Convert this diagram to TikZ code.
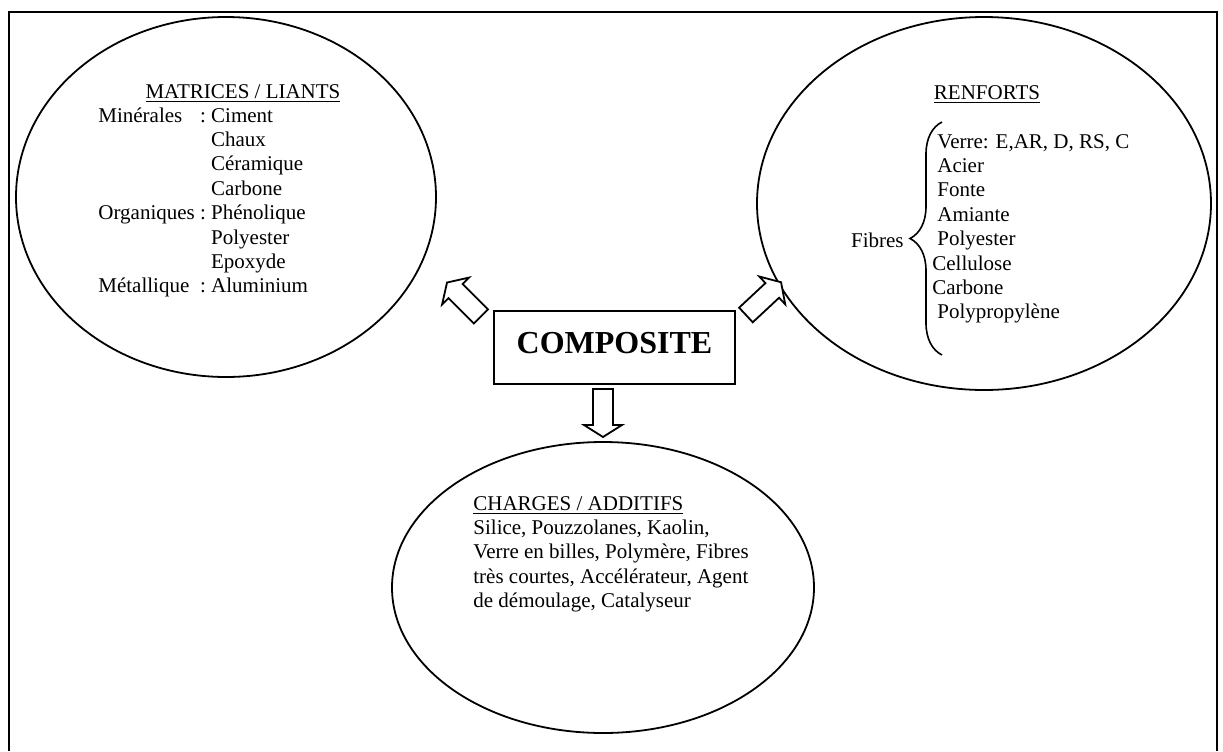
\documentclass[tikz,border=0pt]{standalone}
\usepackage{fontspec}
\setmainfont{Liberation Serif}
\usetikzlibrary{positioning,shapes,decorations.pathreplacing}

\begin{document}
\begin{tikzpicture}[
  x=0.5pt, y=-0.5pt,
  myellipse/.style={draw,ellipse,line width=0.9pt,inner sep=0pt},
  blockarrow/.pic={
    \draw[line width=0.9pt,fill=white] (-24,-10) -- (12,-10) -- (12,-19) -- (24,0)
      -- (12,19) -- (12,10) -- (-24,10) -- cycle;},
  mytext/.style={inner sep=0pt,font=\fontsize{10.5}{12.2}\selectfont}]
\useasboundingbox (0,0) rectangle (1223,751);
\draw[line width=1.3pt] (9,751) -- (9,12) -- (1217,12) -- (1217,751);

\node[myellipse,minimum width=210pt,minimum height=180pt] (matrices) at (226,197) {};
\node[myellipse,minimum width=227pt,minimum height=186.5pt] (renforts) at (984,203.5) {};
\node[myellipse,minimum width=211pt,minimum height=145.5pt] (charges) at (603,587.5) {};

\node[draw,line width=0.9pt,inner sep=0pt,anchor=base,minimum width=120.5pt,
  text height=21pt,text depth=15.5pt,font=\fontsize{16}{19}\selectfont\bfseries]
  (comp) at (614.5,353) {COMPOSITE};

\pic[rotate=135] (toleft) at (464,299.5) {blockarrow};
\pic[rotate=43] (toright) at (763.5,298.6) {blockarrow};
\pic[rotate=-90] (todown) at (603,413) {blockarrow};

\node[mytext,anchor=base] (mtitle) at (243,98) {\underline{MATRICES / LIANTS}};
\node[mytext,anchor=base west] (mlist) at (98,122) {%
  \begin{tabular}[t]{@{}l@{\ }l@{\ }l@{}}
  Minérales & : & Ciment\\
   & & Chaux\\
   & & Céramique\\
   & & Carbone\\
  Organiques & : & Phénolique\\
   & & Polyester\\
   & & Epoxyde\\
  Métallique & : & Aluminium
  \end{tabular}};

\node[mytext,anchor=base] (rtitle) at (987,99) {\underline{RENFORTS}};
\node[mytext,anchor=base west] (rlist) at (932,148) {%
  \begin{tabular}[t]{@{}l@{}}
  \hspace*{2.5pt}Verre: E,AR, D, RS, C\\
  \hspace*{2.5pt}Acier\\
  \hspace*{2.5pt}Fonte\\
  \hspace*{2.5pt}Amiante\\
  \hspace*{2.5pt}Polyester\\
  Cellulose\\
  Carbone\\
  \hspace*{2.5pt}Polypropylène
  \end{tabular}};
\node[mytext,anchor=base east] (fibres) at (904,247) {Fibres};
\coordinate (btop) at (942,122);
\coordinate (bbot) at (942,355);
\draw[decorate,decoration={brace,amplitude=16pt},line width=0.8pt] (bbot) -- (btop);

\node[mytext,anchor=base west] (clist) at (473,510) {%
  \begin{tabular}[t]{@{}l@{}}
  \underline{CHARGES / ADDITIFS}\\
  Silice, Pouzzolanes, Kaolin,\\
  Verre en billes, Polymère, Fibres\\
  très courtes, Accélérateur, Agent\\
  de démoulage, Catalyseur
  \end{tabular}};
\end{tikzpicture}
\end{document}
